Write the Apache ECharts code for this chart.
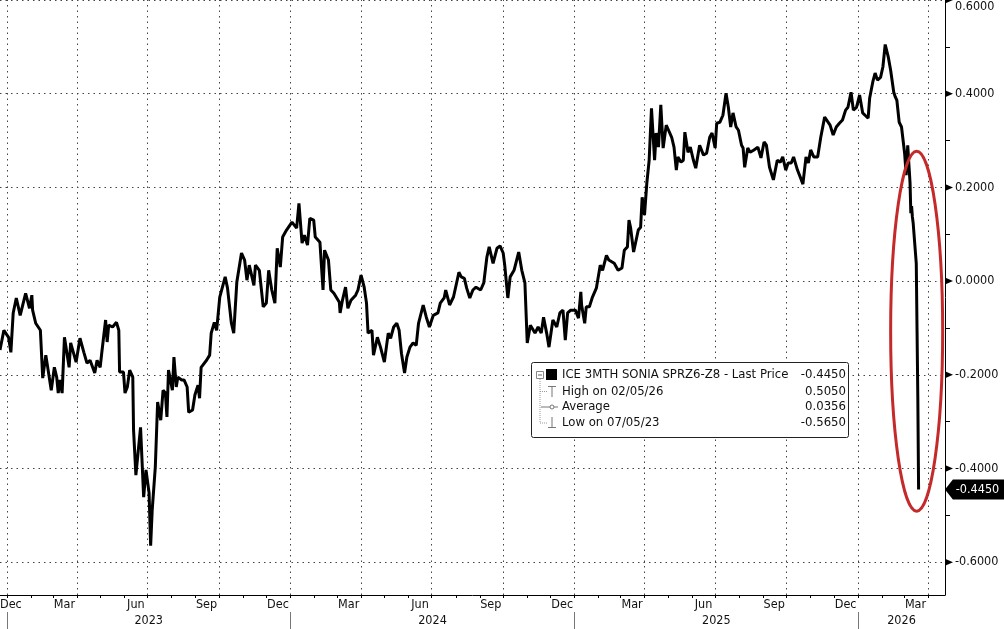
<!DOCTYPE html>
<html><head><meta charset="utf-8">
<script src="https://cdn.jsdelivr.net/npm/echarts@6/dist/echarts.min.js"></script>
<style>html,body{margin:0;padding:0;background:#fff}#c{width:1004px;height:629px}</style>
</head><body><div id="c"></div>
<script>
const seriesName = 'ICE 3MTH SONIA SPRZ6-Z8 - Last Price';
const dates = [
'2022-12-23','2022-12-28','2023-01-03','2023-01-06','2023-01-09','2023-01-13','2023-01-18','2023-01-25','2023-01-30','2023-02-02',
'2023-02-03','2023-02-07','2023-02-13','2023-02-16','2023-02-20','2023-02-23','2023-02-27','2023-03-03','2023-03-06','2023-03-08',
'2023-03-10','2023-03-13','2023-03-16','2023-03-22','2023-03-24','2023-03-31','2023-04-05','2023-04-10','2023-04-14','2023-04-18',
'2023-04-24','2023-04-27','2023-05-01','2023-05-03','2023-05-08','2023-05-10','2023-05-12','2023-05-17','2023-05-22','2023-05-25',
'2023-05-26','2023-05-31','2023-06-02','2023-06-05','2023-06-08','2023-06-12','2023-06-13','2023-06-16','2023-06-22','2023-06-26',
'2023-06-29','2023-07-03','2023-07-05','2023-07-07','2023-07-11','2023-07-14','2023-07-18','2023-07-21','2023-07-24','2023-07-26',
'2023-07-28','2023-08-02','2023-08-04','2023-08-07','2023-08-09','2023-08-14','2023-08-17','2023-08-21','2023-08-23','2023-08-28',
'2023-08-31','2023-09-04','2023-09-06','2023-09-08','2023-09-15','2023-09-19','2023-09-21','2023-09-25','2023-09-28','2023-10-02',
'2023-10-09','2023-10-12','2023-10-17','2023-10-20','2023-10-24','2023-10-30','2023-11-03','2023-11-06','2023-11-09','2023-11-15',
'2023-11-17','2023-11-22','2023-11-27','2023-12-01','2023-12-04','2023-12-08','2023-12-12','2023-12-15','2023-12-19','2023-12-22',
'2023-12-27','2024-01-03','2024-01-09','2024-01-12','2024-01-16','2024-01-19','2024-01-23','2024-01-26','2024-01-31','2024-02-02',
'2024-02-08','2024-02-12','2024-02-14','2024-02-19','2024-02-22','2024-02-26','2024-03-04','2024-03-05','2024-03-08','2024-03-12',
'2024-03-15','2024-03-19','2024-03-25','2024-03-28','2024-04-01','2024-04-05','2024-04-08','2024-04-10','2024-04-15','2024-04-17',
'2024-04-22','2024-04-26','2024-05-01','2024-05-06','2024-05-09','2024-05-13','2024-05-17','2024-05-20','2024-05-23','2024-05-27',
'2024-05-30','2024-06-03','2024-06-07','2024-06-11','2024-06-14','2024-06-20','2024-06-24','2024-06-28','2024-07-03','2024-07-09',
'2024-07-12','2024-07-17','2024-07-19','2024-07-24','2024-07-29','2024-08-02','2024-08-05','2024-08-08','2024-08-12','2024-08-15',
'2024-08-19','2024-08-23','2024-08-27','2024-09-02','2024-09-06','2024-09-10','2024-09-13','2024-09-18','2024-09-23','2024-09-27',
'2024-10-01','2024-10-03','2024-10-07','2024-10-10','2024-10-15','2024-10-21','2024-10-25','2024-10-29','2024-11-01','2024-11-05',
'2024-11-11','2024-11-15','2024-11-19','2024-11-22','2024-11-26','2024-11-29','2024-12-04','2024-12-09','2024-12-13','2024-12-17',
'2024-12-20','2024-12-23','2024-12-27','2025-01-02','2025-01-06','2025-01-09','2025-01-10','2025-01-14','2025-01-16','2025-01-20',
'2025-01-24','2025-01-29','2025-02-03','2025-02-06','2025-02-11','2025-02-14','2025-02-21','2025-02-26','2025-03-03','2025-03-06',
'2025-03-10','2025-03-12','2025-03-14','2025-03-18','2025-03-24','2025-03-27','2025-03-29','2025-04-01','2025-04-04','2025-04-07',
'2025-04-10','2025-04-14','2025-04-16','2025-04-19','2025-04-22','2025-04-25','2025-04-29','2025-05-02','2025-05-06','2025-05-09',
'2025-05-12','2025-05-14','2025-05-18','2025-05-21','2025-05-23','2025-05-27','2025-05-30','2025-06-03','2025-06-06','2025-06-11',
'2025-06-16','2025-06-20','2025-06-24','2025-06-27','2025-07-01','2025-07-03','2025-07-07','2025-07-11','2025-07-15','2025-07-18',
'2025-07-21','2025-07-24','2025-07-28','2025-07-31','2025-08-04','2025-08-06','2025-08-08','2025-08-12','2025-08-15','2025-08-20',
'2025-08-25','2025-08-29','2025-09-02','2025-09-05','2025-09-09','2025-09-14','2025-09-19','2025-09-23','2025-09-26','2025-09-30',
'2025-10-03','2025-10-07','2025-10-10','2025-10-15','2025-10-20','2025-10-22','2025-10-26','2025-10-29','2025-11-01','2025-11-05',
'2025-11-10','2025-11-14','2025-11-19','2025-11-21','2025-11-26','2025-11-30','2025-12-04','2025-12-08','2025-12-12','2025-12-16',
'2025-12-19','2025-12-23','2025-12-26','2025-12-30','2026-01-03','2026-01-07','2026-01-10','2026-01-14','2026-01-16','2026-01-20',
'2026-01-23','2026-01-26','2026-01-30','2026-02-02','2026-02-05','2026-02-09','2026-02-12','2026-02-16','2026-02-18','2026-02-20',
'2026-02-23','2026-02-26','2026-03-02','2026-03-04','2026-03-06','2026-03-09','2026-03-10','2026-03-11','2026-03-12','2026-03-13',
'2026-03-17','2026-03-18','2026-03-19','2026-03-20'
];
const values = [
-0.147,-0.105,-0.120,-0.152,-0.068,-0.036,-0.073,-0.026,-0.058,-0.030,
-0.062,-0.090,-0.105,-0.207,-0.158,-0.190,-0.233,-0.184,-0.205,-0.239,
-0.211,-0.239,-0.120,-0.184,-0.132,-0.173,-0.122,-0.152,-0.175,-0.169,
-0.196,-0.169,-0.184,-0.154,-0.083,-0.130,-0.094,-0.098,-0.088,-0.105,
-0.194,-0.194,-0.239,-0.226,-0.190,-0.205,-0.318,-0.414,-0.312,-0.461,
-0.403,-0.452,-0.565,-0.489,-0.397,-0.258,-0.297,-0.233,-0.239,-0.290,
-0.190,-0.233,-0.162,-0.226,-0.205,-0.211,-0.211,-0.226,-0.280,-0.275,
-0.243,-0.222,-0.250,-0.184,-0.169,-0.158,-0.111,-0.088,-0.105,-0.034,
0.009,-0.015,-0.090,-0.111,-0.002,0.060,0.045,0.002,0.034,-0.009,
0.034,0.023,-0.055,-0.047,0.023,-0.019,-0.047,0.070,0.030,0.094,
0.109,0.126,0.113,0.166,0.081,0.098,0.077,0.134,0.130,0.094,
0.083,-0.019,0.066,0.045,-0.019,-0.026,-0.045,-0.068,-0.041,-0.013,
-0.058,-0.041,-0.030,-0.019,0.013,-0.013,-0.047,-0.111,-0.105,-0.158,
-0.120,-0.141,-0.173,-0.111,-0.122,-0.098,-0.090,-0.105,-0.154,-0.196,
-0.162,-0.141,-0.132,-0.137,-0.090,-0.051,-0.077,-0.098,-0.073,-0.068,
-0.047,-0.036,-0.019,-0.051,-0.034,-0.004,0.019,0.009,0.006,-0.015,
-0.036,-0.019,-0.013,-0.019,-0.004,0.051,0.073,0.038,0.070,0.075,
0.060,0.034,-0.036,0.009,0.023,0.062,0.023,-0.004,-0.132,-0.094,
-0.111,-0.098,-0.111,-0.077,-0.111,-0.141,-0.083,-0.098,-0.068,-0.062,
-0.126,-0.068,-0.062,-0.062,-0.079,-0.023,-0.051,-0.090,-0.055,-0.055,
-0.034,-0.015,0.034,0.023,0.055,0.045,0.038,0.023,0.028,0.066,
0.073,0.130,0.115,0.062,0.109,0.115,0.179,0.141,0.209,0.258,
0.369,0.258,0.316,0.286,0.376,0.284,0.333,0.322,0.307,0.286,
0.237,0.265,0.254,0.258,0.318,0.275,0.286,0.258,0.241,0.290,
0.269,0.273,0.307,0.316,0.284,0.337,0.339,0.354,0.401,0.371,
0.329,0.359,0.329,0.322,0.290,0.284,0.243,0.284,0.275,0.280,
0.286,0.263,0.297,0.290,0.243,0.216,0.258,0.254,0.265,0.237,
0.252,0.252,0.265,0.237,0.216,0.207,0.265,0.252,0.280,0.265,
0.265,0.307,0.350,0.354,0.333,0.312,0.329,0.337,0.344,0.365,
0.371,0.403,0.365,0.371,0.397,0.359,0.354,0.348,0.391,0.425,
0.444,0.429,0.435,0.457,0.505,0.478,0.450,0.403,0.393,0.386,
0.339,0.329,0.273,0.226,0.290,0.209,0.145,0.160,0.137,0.124,
0.038,-0.105,-0.248,-0.445
];
const averageValue = 0.0356;
const yTickValues = [-0.6, -0.4, -0.2, 0, 0.2, 0.4, 0.6];
const yMinorTickValues = [-0.5, -0.3, -0.1, 0.1, 0.3, 0.5];
const monthLabelDates = ['2022-12-23','2023-03-16','2023-06-16','2023-09-15','2023-12-16','2024-03-16','2024-06-16','2024-09-15','2024-12-16','2025-03-16','2025-06-16','2025-09-15','2025-12-16','2026-03-16'];
const monthLabelTexts = ['Dec','Mar','Jun','Sep','Dec','Mar','Jun','Sep','Dec','Mar','Jun','Sep','Dec','Mar'];
const yearSeparatorDates = ['2023-01-01','2024-01-01','2025-01-01','2026-01-01'];
const yearLabels = ['2023','2024','2025','2026'];
const xMinDate = '2022-12-23', xMaxDate = '2026-04-23';
const yMin = -0.67, yMax = 0.6;
const highlight = { from: '2026-02-12', to: '2026-04-20', top: 0.277, bottom: -0.491 };

const FONT = '"DejaVu Sans Condensed","Liberation Sans",sans-serif';
const FS = 12.5;
const LEGEND_FS = 13;
function ts(s){ const p = s.split('-').map(Number); return new Date(p[0], p[1]-1, p[2]).getTime(); }
function fmtDate(s){ const p = s.split('-'); return p[1] + '/' + p[2] + '/' + p[0].slice(2); }

const xMin = ts(xMinDate), xMax = ts(xMaxDate);
const data = dates.map((d, i) => [ts(d), values[i]]);
const monthTicks = [], quarterLines = [];
for (let y = 2023; y <= 2026; y++) for (let m = 0; m < 12; m++) {
  const t = new Date(y, m, 1).getTime();
  if (t < xMin || t > xMax) continue;
  monthTicks.push(t);
  if (m % 3 === 0) quarterLines.push(t);
}
const monthLabelTs = monthLabelDates.map(ts);
const yearSepTs = yearSeparatorDates.map(ts);
const yearMidTs = yearLabels.map(y => { const a = ts(y + '-01-01'); const b = Math.min(ts((+y + 1) + '-01-01'), xMax); return (a + b) / 2; });

function nearestIdx(arr, v){ let b = -1, d = Infinity; arr.forEach((a, i) => { const e = Math.abs(a - v); if (e < d) { d = e; b = i; } }); return d < 86400000 ? b : -1; }

let hiI = 0, loI = 0;
values.forEach((v, i) => { if (v > values[hiI]) hiI = i; if (v < values[loI]) loI = i; });
const lastValue = values[values.length - 1];

const chart = echarts.init(document.getElementById('c'), null, { renderer: 'canvas' });
const option = {
  animation: false,
  backgroundColor: '#fff',
  grid: { left: 0, right: 59, top: 0, bottom: 34, containLabel: false, outerBoundsMode: 'none' },
  xAxis: [
    { type: 'value', min: xMin, max: xMax, position: 'bottom', scale: true,
      axisLine: { show: true, onZero: false, lineStyle: { color: '#000', width: 1 } },
      axisTick: { show: true, customValues: monthTicks, length: 3, lineStyle: { color: '#000' } },
      axisLabel: { customValues: monthLabelTs, margin: 3, color: '#111', fontFamily: FONT, fontSize: FS, alignMinLabel: 'left', hideOverlap: false,
        formatter: v => { const i = nearestIdx(monthLabelTs, v); return i >= 0 ? monthLabelTexts[i] : ''; } },
      splitLine: { show: false } },
    { type: 'value', min: xMin, max: xMax, position: 'bottom', offset: 17, scale: true,
      axisLine: { show: false, onZero: false },
      axisTick: { show: true, customValues: yearSepTs, length: 17, lineStyle: { color: '#777' } },
      axisLabel: { customValues: yearMidTs, margin: 2, color: '#111', fontFamily: FONT, fontSize: FS, hideOverlap: false,
        formatter: v => { const i = nearestIdx(yearMidTs, v); return i >= 0 ? yearLabels[i] : ''; } },
      splitLine: { show: false } }
  ],
  yAxis: {
    type: 'value', position: 'right', min: yMin, max: yMax,
    axisLine: { show: true, onZero: false, lineStyle: { color: '#000', width: 1 } },
    axisTick: { show: true, customValues: yMinorTickValues, length: 5, inside: false, lineStyle: { color: '#000' } },
    axisLabel: { customValues: yTickValues, margin: 10, color: '#111', fontFamily: FONT, fontSize: FS, verticalAlignMaxLabel: 'top',
      formatter: v => (Math.abs(v) < 1e-9 ? 0 : v).toFixed(4) },
    splitLine: { show: false }
  },
  series: [{
    type: 'line', name: seriesName, data: data, showSymbol: false, symbol: 'none', clip: false, z: 3,
    lineStyle: { color: '#000', width: 3 },
    markLine: {
      silent: true, symbol: 'none', z: 1, animation: false, label: { show: false },
      lineStyle: { type: [1.5, 4], color: '#444', width: 1 },
      emphasis: { disabled: true },
      data: quarterLines.map(t => ({ xAxis: t })).concat(yTickValues.map(v => ({ yAxis: v })))
    },
    markPoint: {
      silent: true, animation: false,
      data: yTickValues.map(v => ({ coord: [xMax, v], symbol: 'triangle', symbolSize: [7, 8], symbolRotate: -90, symbolOffset: [4, 0],
        itemStyle: { color: '#000' }, label: { show: false } })).concat([{
        coord: [xMax, lastValue], symbol: 'path://M0,10L8,0L60,0L60,20L8,20Z', symbolSize: [59, 20], symbolKeepAspect: false,
        symbolOffset: [29.5, 0], itemStyle: { color: '#000' },
        label: { show: true, position: 'inside', offset: [3, 0], formatter: lastValue.toFixed(4), color: '#fff', fontFamily: FONT, fontSize: FS }
      }])
    }
  }]
};
chart.setOption(option);

const pA = chart.convertToPixel({ xAxisIndex: 0, yAxisIndex: 0 }, [ts(highlight.from), highlight.top]);
const pB = chart.convertToPixel({ xAxisIndex: 0, yAxisIndex: 0 }, [ts(highlight.to), highlight.bottom]);
const font = LEGEND_FS + 'px ' + FONT;
const gray = '#777';
const rows = [
  { label: seriesName, value: lastValue.toFixed(4), y: 375 },
  { label: 'High on ' + fmtDate(dates[hiI]), value: values[hiI].toFixed(4), y: 391.5 },
  { label: 'Average', value: averageValue.toFixed(4), y: 407 },
  { label: 'Low on ' + fmtDate(dates[loI]), value: values[loI].toFixed(4), y: 423 }
];
const g = [
  { type: 'ellipse', z: 20, silent: true,
    shape: { cx: (pA[0] + pB[0]) / 2, cy: (pA[1] + pB[1]) / 2, rx: Math.abs(pB[0] - pA[0]) / 2, ry: Math.abs(pB[1] - pA[1]) / 2 },
    style: { fill: 'none', stroke: '#c42a2a', lineWidth: 3 } },
  { type: 'rect', z: 10, silent: true, shape: { x: 531.5, y: 362.5, width: 317, height: 75, r: 2 }, style: { fill: '#fff', stroke: '#222', lineWidth: 1 } },
  { type: 'line', z: 11, silent: true, shape: { x1: 540, y1: 379, x2: 540, y2: 423 }, style: { stroke: '#999', lineWidth: 1, lineDash: [1, 1] } },
  { type: 'line', z: 11, silent: true, shape: { x1: 540, y1: 391.5, x2: 547, y2: 391.5 }, style: { stroke: '#999', lineWidth: 1, lineDash: [1, 1] } },
  { type: 'line', z: 11, silent: true, shape: { x1: 540, y1: 423, x2: 547, y2: 423 }, style: { stroke: '#999', lineWidth: 1, lineDash: [1, 1] } },
  { type: 'rect', z: 12, silent: true, shape: { x: 536.5, y: 371.5, width: 7, height: 7 }, style: { fill: '#fff', stroke: '#888', lineWidth: 1 } },
  { type: 'line', z: 13, silent: true, shape: { x1: 538, y1: 375, x2: 542, y2: 375 }, style: { stroke: '#666', lineWidth: 1 } },
  { type: 'rect', z: 12, silent: true, shape: { x: 546, y: 369, width: 11, height: 11 }, style: { fill: '#000' } },
  { type: 'line', z: 12, silent: true, shape: { x1: 548, y1: 386.5, x2: 556, y2: 386.5 }, style: { stroke: gray, lineWidth: 1 } },
  { type: 'line', z: 12, silent: true, shape: { x1: 552, y1: 386.5, x2: 552, y2: 397 }, style: { stroke: gray, lineWidth: 1 } },
  { type: 'line', z: 12, silent: true, shape: { x1: 541, y1: 407, x2: 558, y2: 407 }, style: { stroke: gray, lineWidth: 1 } },
  { type: 'circle', z: 13, silent: true, shape: { cx: 552, cy: 407, r: 2 }, style: { fill: '#fff', stroke: gray, lineWidth: 1 } },
  { type: 'line', z: 12, silent: true, shape: { x1: 552, y1: 417, x2: 552, y2: 427.5 }, style: { stroke: gray, lineWidth: 1 } },
  { type: 'line', z: 12, silent: true, shape: { x1: 548, y1: 427.5, x2: 556, y2: 427.5 }, style: { stroke: gray, lineWidth: 1 } }
];
rows.forEach(r => {
  g.push({ type: 'text', z: 12, silent: true, x: 562, y: r.y, style: { text: r.label, fill: '#111', font: font, align: 'left', verticalAlign: 'middle' } });
  g.push({ type: 'text', z: 12, silent: true, x: 846, y: r.y, style: { text: r.value, fill: '#111', font: font, align: 'right', verticalAlign: 'middle' } });
});
chart.setOption({ graphic: g });
</script>
</body></html>
